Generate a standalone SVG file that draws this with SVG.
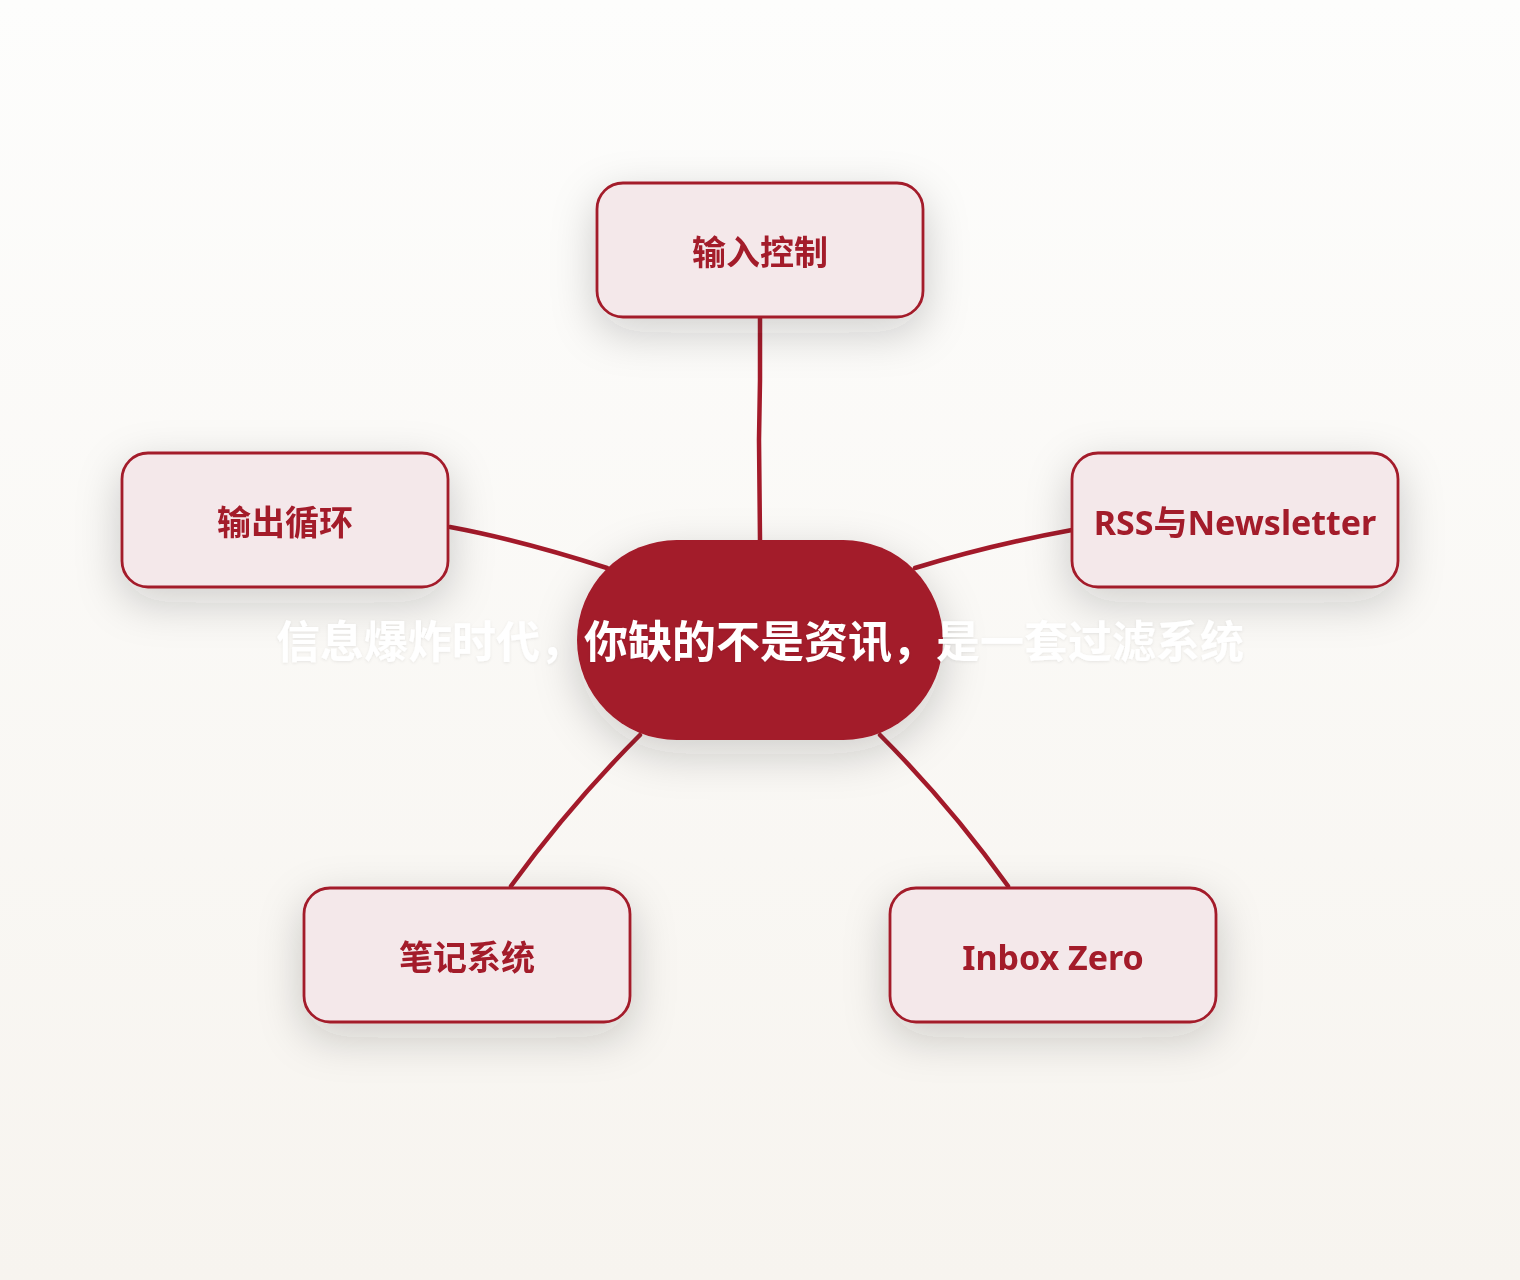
<svg xmlns="http://www.w3.org/2000/svg" width="1520" height="1280" viewBox="0 0 1520 1280">
<defs>
<linearGradient id="bg" x1="0" y1="0" x2="0" y2="1">
<stop offset="0" stop-color="#FDFDFC"/>
<stop offset="1" stop-color="#F7F4EF"/>
</linearGradient>
<filter id="sh" x="-40%" y="-60%" width="180%" height="240%">
<feDropShadow dx="0" dy="14" stdDeviation="22" flood-color="#2a2520" flood-opacity="0.2"/>
</filter>
<filter id="tsh" x="-10%" y="-50%" width="120%" height="200%">
<feDropShadow dx="0" dy="1" stdDeviation="1.5" flood-color="#000" flood-opacity="0.08"/>
</filter>
<style>
.node{fill:#F4E8EA;stroke:#A31A2A;stroke-width:2.8}
.lbl{font-family:"Noto Sans","Noto Sans CJK SC",sans-serif;font-weight:700;font-size:34px;fill:#A31A2A;text-anchor:middle}
.edge{fill:none;stroke:#A31A2A;stroke-width:4.5;stroke-linecap:round}
.ctr{font-family:"Noto Sans CJK SC","Noto Sans",sans-serif;font-weight:700;font-size:44px;fill:#FFFFFF;text-anchor:middle}
</style>
</defs>
<rect width="1520" height="1280" fill="url(#bg)"/>
<g id="connectors">
<path class="edge" d="M760 318 L760 380 L759 440 L760 540"/>
<path class="edge" d="M450 527 Q520 540 607 568"/>
<path class="edge" d="M1072 530 Q990 545 915 568"/>
<path class="edge" d="M511 886 Q570 805 640 735"/>
<path class="edge" d="M1008 886 Q950 805 880 735"/>
</g>
<g id="node-input" filter="url(#sh)">
<rect class="node" x="597" y="183" width="326" height="134" rx="26"/>
<text class="lbl" x="760" y="265">输入控制</text>
</g>
<g id="node-output" filter="url(#sh)">
<rect class="node" x="122" y="453" width="326" height="134" rx="26"/>
<text class="lbl" x="285" y="535">输出循环</text>
</g>
<g id="node-rss" filter="url(#sh)">
<rect class="node" x="1072" y="453" width="326" height="134" rx="26"/>
<text class="lbl" x="1235" y="535">RSS与Newsletter</text>
</g>
<g id="node-notes" filter="url(#sh)">
<rect class="node" x="304" y="888" width="326" height="134" rx="26"/>
<text class="lbl" x="467" y="970">笔记系统</text>
</g>
<g id="node-inbox" filter="url(#sh)">
<rect class="node" x="890" y="888" width="326" height="134" rx="26"/>
<text class="lbl" x="1053" y="970">Inbox Zero</text>
</g>
<g id="node-center">
<rect x="577" y="540" width="366" height="200" rx="100" fill="#A31A2A" filter="url(#sh)"/>
<text class="ctr" x="760" y="658" filter="url(#tsh)">信息爆炸时代，你缺的不是资讯，是一套过滤系统</text>
</g>
</svg>
